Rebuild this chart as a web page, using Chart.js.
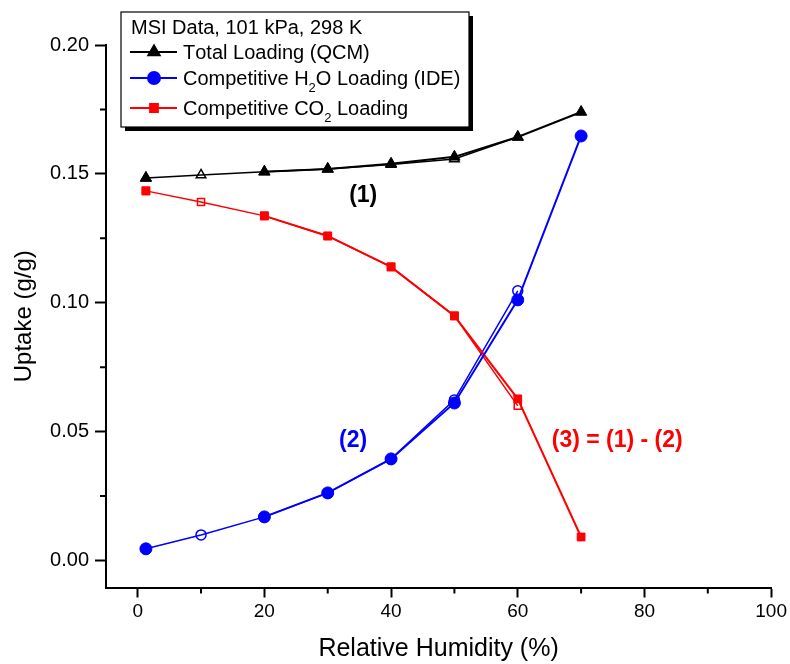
<!DOCTYPE html>
<html>
<head>
<meta charset="utf-8">
<script src="https://cdn.jsdelivr.net/npm/chart.js@4/dist/chart.umd.min.js"></script>
<style>
  html, body { margin: 0; padding: 0; background: #fff; }
  #wrap { width: 790px; height: 664px; }
</style>
</head>
<body>
<div id="wrap"><canvas id="chart" width="790" height="664"></canvas></div>
<script>
// relative humidity (%) and uptake (g/g)
const rhFilled    = [1.3, 10, 20, 30, 40, 50, 60, 70];
const totalFilled = [0.1484, null, 0.1508, 0.1519, 0.1539, 0.1566, 0.1643, 0.1740];
const h2oFilled   = [0.0045, null, 0.0169, 0.0262, 0.0394, 0.0611, 0.1011, 0.1647];
const co2Filled   = [0.1434, null, 0.1337, 0.1259, 0.1139, 0.0949, 0.0627, 0.0091];

const rhOpen    = [1.3, 10, 20, 30, 40, 50, 60];
const totalOpen = [0.1484, 0.1496, 0.1508, 0.1519, 0.1536, 0.1558, 0.1643];
const h2oOpen   = [0.0045, 0.0099, 0.0169, 0.0262, 0.0394, 0.0623, 0.1046];
const co2Open   = [0.1434, 0.1391, 0.1337, 0.1259, 0.1139, 0.0949, 0.0600];

const xTicks = [0, 20, 40, 60, 80, 100];
const xMinor = [10, 30, 50, 70, 90];
const yTicks = [0, 0.05, 0.10, 0.15, 0.20];
const yMinor = [0.025, 0.075, 0.125, 0.175];

const legendTitle = 'MSI Data, 101 kPa, 298 K';
const notes = [
    { text: '(1)', x: 35.6, y: 0.1415, color: '#000' },
    { text: '(2)', x: 34.0, y: 0.0464, color: '#0000ff' },
    { text: '(3) = (1) - (2)', x: 75.7, y: 0.0464, color: '#ff0000' }
];

const FONT = 'Arial, "Liberation Sans", sans-serif';

function pts(xs, ys) {
    return xs.map((x, i) => ({ x: x, y: ys[i] }));
}

function filledSet(label, xs, ys, color, style, r) {
    return {
        label: label, data: pts(xs, ys), borderColor: color, backgroundColor: color,
        borderWidth: 2, pointStyle: style, pointRadius: r, pointBorderWidth: 1,
        pointBackgroundColor: color, pointBorderColor: color, spanGaps: false,
        showInLegend: true
    };
}

function openSet(label, xs, ys, color, style, r) {
    return {
        label: label, data: pts(xs, ys), borderColor: color, backgroundColor: color,
        borderWidth: 1.5, pointStyle: style, pointRadius: r, pointBorderWidth: 1.5,
        pointBackgroundColor: 'rgba(0,0,0,0)', pointBorderColor: color
    };
}

const legendBox = {
    id: 'legendBox',
    afterDraw(chart) {
        const ctx = chart.ctx;
        const bx = 121, by = 12, bw = 348, bh = 115;
        ctx.save();
        ctx.fillStyle = '#000';
        ctx.fillRect(bx + 4, by + 4, bw, bh);
        ctx.fillStyle = '#fff';
        ctx.fillRect(bx, by, bw, bh);
        ctx.strokeStyle = '#000';
        ctx.lineWidth = 1.2;
        ctx.strokeRect(bx, by, bw, bh);

        ctx.fillStyle = '#000';
        ctx.font = '20px ' + FONT;
        ctx.textBaseline = 'alphabetic';
        ctx.textAlign = 'left';
        ctx.fillText(legendTitle, 131, 34);

        const rows = [52, 78, 108];
        const items = chart.data.datasets.filter(d => d.showInLegend);
        items.forEach((ds, i) => {
            const y = rows[i];
            ctx.strokeStyle = ds.borderColor;
            ctx.lineWidth = 2;
            ctx.beginPath();
            ctx.moveTo(130, y);
            ctx.lineTo(177, y);
            ctx.stroke();
            ctx.fillStyle = ds.borderColor;
            Chart.helpers.drawPoint(ctx, {
                pointStyle: ds.pointStyle, radius: ds.pointRadius, rotation: 0, borderWidth: 1
            }, 154, y);
            // label, with ₂ drawn as a lowered small 2
            let x = 183;
            ctx.fillStyle = '#000';
            for (const ch of ds.label) {
                if (ch === '₂') {
                    ctx.font = '13px ' + FONT;
                    ctx.fillText('2', x, y + 14);
                    x += ctx.measureText('2').width;
                } else {
                    ctx.font = '20px ' + FONT;
                    ctx.fillText(ch, x, y + 7);
                    x += ctx.measureText(ch).width;
                }
            }
        });
        ctx.restore();
    }
};

const extras = {
    id: 'extras',
    afterDraw(chart) {
        const ctx = chart.ctx;
        const xs = chart.scales.x, ys = chart.scales.y;
        ctx.save();
        // minor ticks
        ctx.strokeStyle = '#000';
        ctx.lineWidth = 2;
        ctx.beginPath();
        xMinor.forEach(v => {
            const px = xs.getPixelForValue(v);
            ctx.moveTo(px, xs.top);
            ctx.lineTo(px, xs.top + 6);
        });
        yMinor.forEach(v => {
            const py = ys.getPixelForValue(v);
            ctx.moveTo(ys.right, py);
            ctx.lineTo(ys.right - 6, py);
        });
        ctx.stroke();
        // curve labels
        ctx.font = 'bold 23px ' + FONT;
        ctx.textAlign = 'center';
        ctx.textBaseline = 'middle';
        notes.forEach(n => {
            ctx.fillStyle = n.color;
            ctx.fillText(n.text, xs.getPixelForValue(n.x), ys.getPixelForValue(n.y));
        });
        ctx.restore();
    }
};

const ctx = document.getElementById('chart').getContext('2d');
new Chart(ctx, {
    type: 'line',
    data: {
        datasets: [
            filledSet('Total Loading (QCM)', rhFilled, totalFilled, '#000000', 'triangle', 6.5),
            filledSet('Competitive H₂O Loading (IDE)', rhFilled, h2oFilled, '#0000ff', 'circle', 6),
            filledSet('Competitive CO₂ Loading', rhFilled, co2Filled, '#ff0000', 'rect', 5.5),
            openSet('Total Loading (QCM) open', rhOpen, totalOpen, '#000000', 'triangle', 5.5),
            openSet('Competitive H₂O Loading (IDE) open', rhOpen, h2oOpen, '#0000ff', 'circle', 5),
            openSet('Competitive CO₂ Loading open', rhOpen, co2Open, '#ff0000', 'rect', 5)
        ]
    },
    options: {
        responsive: false,
        animation: false,
        layout: { padding: { left: 0, right: 14, top: 45, bottom: 0 } },
        plugins: { legend: { display: false }, tooltip: { enabled: false } },
        scales: {
            x: {
                type: 'linear', min: -5, max: 100,
                afterBuildTicks: s => { s.ticks = xTicks.map(v => ({ value: v })); },
                afterFit: s => { s.height = 664 - 587.5; },
                ticks: { color: '#000', font: { size: 19, family: FONT }, padding: 3 },
                grid: { drawOnChartArea: false, tickLength: 10, tickColor: '#000', tickWidth: 2 },
                border: { color: '#000', width: 2 },
                title: { display: true, text: 'Relative Humidity (%)', color: '#000',
                         font: { size: 25, family: FONT }, padding: { top: 4, bottom: 0 } }
            },
            y: {
                type: 'linear', min: -0.0105, max: 0.2,
                afterBuildTicks: s => { s.ticks = yTicks.map(v => ({ value: v })); },
                afterFit: s => { s.width = 106; },
                ticks: { color: '#000', font: { size: 20, family: FONT }, padding: 6,
                         callback: v => v.toFixed(2) },
                grid: { drawOnChartArea: false, tickLength: 11, tickColor: '#000', tickWidth: 2 },
                border: { color: '#000', width: 2 },
                title: { display: true, text: 'Uptake (g/g)', color: '#000',
                         font: { size: 24, family: FONT }, padding: { top: 10, bottom: 4 } }
            }
        }
    },
    plugins: [extras, legendBox]
});
</script>
</body>
</html>
